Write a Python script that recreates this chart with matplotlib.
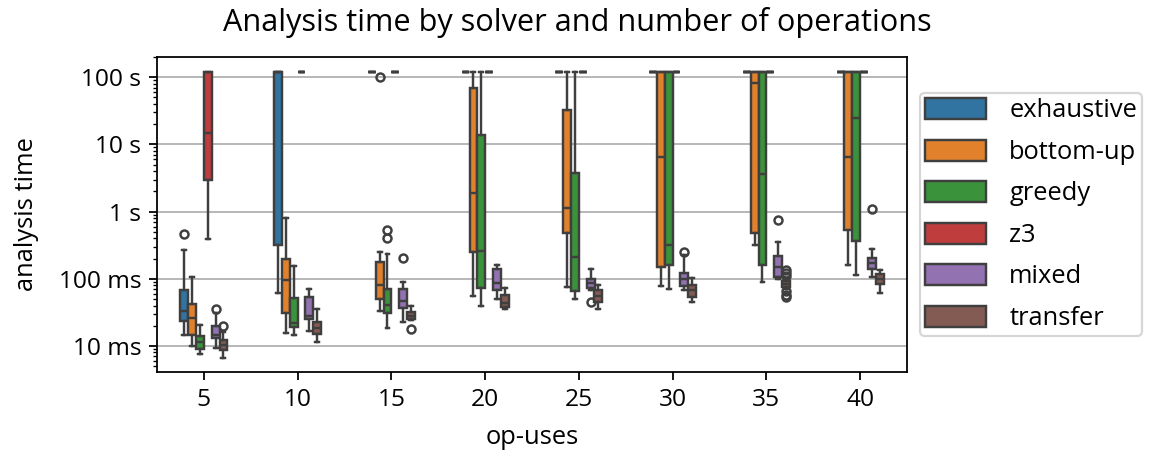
import matplotlib

matplotlib.use("Agg")
import matplotlib.pyplot as plt
from matplotlib.patches import Patch
from matplotlib.ticker import FixedLocator, FuncFormatter, LogLocator

# op-uses categories on the x axis
OP_USES = [5, 10, 15, 20, 25, 30, 35, 40]
SOLVERS = ["exhaustive", "bottom-up", "greedy", "z3", "mixed", "transfer"]
COLORS = ["#3274a1", "#e1812c", "#3a923a", "#c03d3e", "#9372b2", "#845b53"]

T = 120.0  # timeout, seconds

# box statistics in seconds, one row per solver, one column per op-uses value
MEDIAN = [
    [0.0327, T, T, T, T, T, T, T],
    [0.026, 0.0967, 0.0815, 1.88, 1.15, 6.4, 81, 6.5],
    [0.0113, 0.022, 0.0411, 0.255, 0.214, 0.32, 3.63, 24.9],
    [14.6, T, T, T, T, T, T, T],
    [0.0147, 0.0282, 0.046, 0.0863, 0.0863, 0.1, 0.152, 0.174],
    [0.0104, 0.0185, 0.028, 0.0435, 0.0546, 0.067, 0.083, 0.1],
]
Q1 = [
    [0.0232, 0.32, T, T, T, T, T, T],
    [0.0147, 0.031, 0.0499, 0.249, 0.478, 0.152, 0.478, 0.535],
    [0.0090, 0.0192, 0.031, 0.0728, 0.065, 0.161, 0.161, 0.367],
    [2.96, T, T, T, T, T, T, T],
    [0.0131, 0.0252, 0.0367, 0.067, 0.0728, 0.077, 0.108, 0.139],
    [0.0088, 0.0152, 0.0252, 0.038, 0.045, 0.0535, 0.075, 0.0834],
]
Q3 = [
    [0.0687, T, T, T, T, T, T, T],
    [0.0426, 0.196, 0.177, 68, 33, T, T, T],
    [0.0139, 0.0517, 0.0703, 13.8, 3.72, T, T, T],
    [T, T, T, T, T, T, T, T],
    [0.020, 0.0535, 0.0703, 0.139, 0.099, 0.124, 0.22, 0.203],
    [0.0124, 0.0224, 0.032, 0.0565, 0.067, 0.0815, 0.092, 0.117],
]
WHISKER_LO = [
    [0.0147, 0.061, T, T, T, T, T, T],
    [0.0099, 0.0156, 0.0327, 0.0547, 0.075, 0.077, 0.32, 0.161],
    [0.0077, 0.0147, 0.0185, 0.0388, 0.0505, 0.071, 0.0894, 0.112],
    [0.39, T, T, T, T, T, T, T],
    [0.0093, 0.0169, 0.0224, 0.050, 0.069, 0.069, 0.100, 0.108],
    [0.0066, 0.0115, 0.0245, 0.0355, 0.0355, 0.0445, 0.070, 0.0614],
]
WHISKER_HI = [
    [0.27, T, T, T, T, T, T, T],
    [0.106, 0.80, 0.249, T, T, T, T, T],
    [0.0202, 0.156, 0.235, T, T, T, T, T],
    [T, T, T, T, T, T, T, T],
    [0.031, 0.071, 0.0894, 0.158, 0.139, 0.225, 0.358, 0.279],
    [0.016, 0.0355, 0.0388, 0.0728, 0.0815, 0.102, 0.098, 0.133],
]
FLIERS = [
    [[0.46], [], [], [], [], [], [], []],
    [[], [], [101], [], [], [], [], []],
    [[], [], [0.40, 0.535], [], [], [], [], []],
    [[], [], [], [], [], [], [], []],
    [[0.0355], [], [0.207], [], [0.0445], [0.25], [0.753], [1.096]],
    [[0.0196], [], [0.0179], [], [], [], [0.135, 0.122, 0.11, 0.065, 0.058, 0.053], []],
]

plt.rcParams["font.family"] = ["Open Sans", "DejaVu Sans"]
plt.rcParams["font.size"] = 11

EDGE = "#3f3f3f"
LW = 1.1
WIDTH = 0.5
n = len(SOLVERS)
bw = WIDTH / n

fig = plt.figure(figsize=(1154 / 160, 453 / 160), dpi=160)
ax = fig.add_axes([157 / 1154, 1 - 372 / 453, 750 / 1154, 315 / 453])

for i, solver in enumerate(SOLVERS):
    stats = []
    pos = []
    for j in range(len(OP_USES)):
        stats.append(dict(med=MEDIAN[i][j], q1=Q1[i][j], q3=Q3[i][j],
                          whislo=WHISKER_LO[i][j], whishi=WHISKER_HI[i][j],
                          fliers=FLIERS[i][j]))
        pos.append(j + (i - (n - 1) / 2) * bw)
    ax.bxp(stats, positions=pos, widths=bw, patch_artist=True,
           manage_ticks=False,
           boxprops=dict(facecolor=COLORS[i], edgecolor=EDGE, linewidth=LW),
           medianprops=dict(color=EDGE, linewidth=LW),
           whiskerprops=dict(color=EDGE, linewidth=LW),
           capprops=dict(color=EDGE, linewidth=LW),
           flierprops=dict(marker="o", markersize=3.6, markerfacecolor="none",
                           markeredgecolor=EDGE, markeredgewidth=1.1))

ax.set_yscale("log")
ax.set_ylim(0.0041, 200)
ax.set_xlim(-0.5, len(OP_USES) - 0.5)
ax.set_xticks(range(len(OP_USES)))
ax.set_xticklabels([str(v) for v in OP_USES])


def fmt_time(v, _):
    if v >= 1:
        return f"{v:g} s"
    return f"{v * 1000:g} ms"


ax.yaxis.set_major_locator(FixedLocator([0.01, 0.1, 1, 10, 100]))
ax.yaxis.set_major_formatter(FuncFormatter(fmt_time))
ax.yaxis.set_minor_locator(LogLocator(base=10, subs=range(2, 10), numticks=20))
ax.grid(axis="y", which="major", color="#b0b0b0", linewidth=0.8)
ax.set_axisbelow(True)

ax.set_xlabel("op-uses", fontsize=11.5, labelpad=6)
ax.set_ylabel("analysis time", fontsize=11.5, labelpad=9)
fig.suptitle("Analysis time by solver and number of operations",
             fontsize=13.8, y=0.985)

handles = [Patch(facecolor=c, edgecolor=EDGE, linewidth=LW) for c in COLORS]
ax.legend(handles, SOLVERS, loc="center left", bbox_to_anchor=(1.0, 0.5),
          fontsize=11.5, handlelength=2.4, handleheight=0.9, labelspacing=0.63,
          handletextpad=0.9, borderpad=0.2)

fig.savefig("out.png", dpi=160)
